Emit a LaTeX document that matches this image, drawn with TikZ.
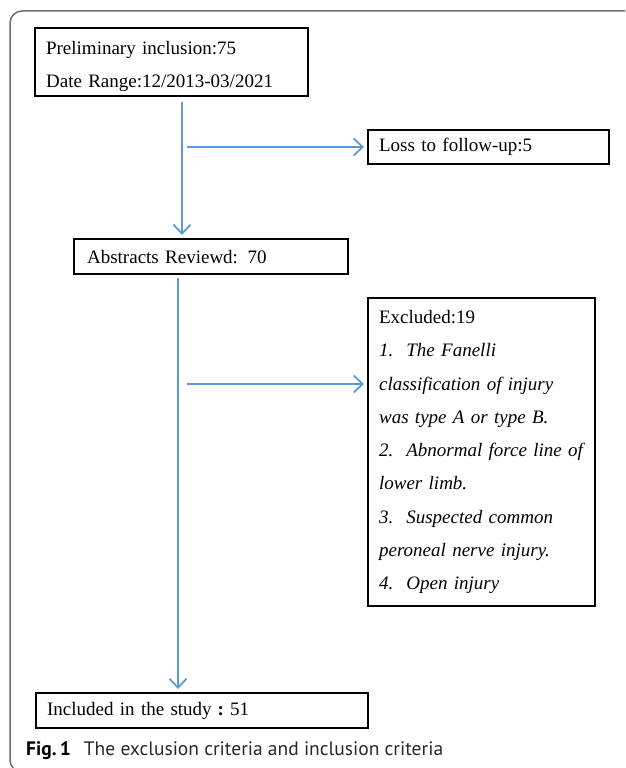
\documentclass[tikz,border=0pt]{standalone}
\usepackage{fontspec}
\setmainfont{Liberation Serif}
\newfontfamily\capfont{PT Sans}
\usetikzlibrary{arrows.meta}
\definecolor{flowblue}{RGB}{91,155,213}
\definecolor{framegray}{RGB}{110,110,110}
\definecolor{captext}{RGB}{40,40,40}
\tikzset{
  boxnode/.style={draw=black, line width=2.2pt, anchor=north west, inner xsep=11pt, inner ysep=0pt,
     align=left, font=\fontsize{19}{33.3}\selectfont},
  arr/.style={draw=flowblue, line width=1.8pt, -{Straight Barb[length=9pt,width=17pt,line width=1.8pt]}},
}
\begin{document}
\begin{tikzpicture}[x=1pt,y=-1pt]
\useasboundingbox (0,0) rectangle (625,768);
\clip (0,0) rectangle (625,768);
% outer frame
\draw[framegray, line width=1.5pt, rounded corners=12pt] (640,11) -- (10,11) -- (10,772) -- (60,772);

\node[boxnode, minimum width=273pt, minimum height=68pt, text width=251pt] (b1) at (34,27)
  {\rule{0pt}{21.5pt}Preliminary inclusion:75\\Date Range:12/2013-03/2021};
\node[boxnode, minimum width=241pt, minimum height=34pt, text width=219pt] (b2) at (367,129)
  {Loss to follow-up:5};
\node[boxnode, minimum width=274pt, minimum height=35pt, inner xsep=13pt, text width=248pt] (b3) at (73,238)
  {Abstracts Reviewd: 70};
\node[boxnode, minimum width=227pt, minimum height=308pt, text width=205pt, inner xsep=11pt] (b4) at (367,297)
  {Excluded:19\\
   \mbox{\textit{1.\hspace{13pt}The Fanelli}}\\
   \mbox{\textit{classification of injury}}\\
   \mbox{\textit{was type A or type B.}}\\
   \mbox{\textit{2.\hspace{13pt}Abnormal force line of}}\\
   \mbox{\textit{lower limb.}}\\
   \mbox{\textit{3.\hspace{13pt}Suspected common}}\\
   \mbox{\textit{peroneal nerve injury.}}\\
   \mbox{\textit{4.\hspace{13pt}Open injury}}};
\node[boxnode, minimum width=332pt, minimum height=35pt, text width=310pt] (b5) at (35,692)
  {Included in the study\hspace{6pt}\textbf{:}\hspace{6pt}51};

\coordinate (s1) at (182,102);
\coordinate (h1) at (187,147);
\coordinate (s2) at (178,278);
\coordinate (h2) at (187,384);
\draw[arr, shorten >=3pt] (s1) -- (s1 |- b3.north);
\draw[arr, shorten >=3pt] (h1) -- (h1 -| b2.west);
\draw[arr, shorten >=3pt] (s2) -- (s2 |- b5.north);
\draw[arr, shorten >=3pt] (h2) -- (h2 -| b4.west);

\node[anchor=base west, inner sep=0pt, font=\capfont\fontsize{19.5}{22}\selectfont] (cap) at (26,755)
  {\textbf{Fig.\,1}\hspace{13pt}\textcolor{captext}{The exclusion criteria and inclusion criteria}};
\end{tikzpicture}
\end{document}
